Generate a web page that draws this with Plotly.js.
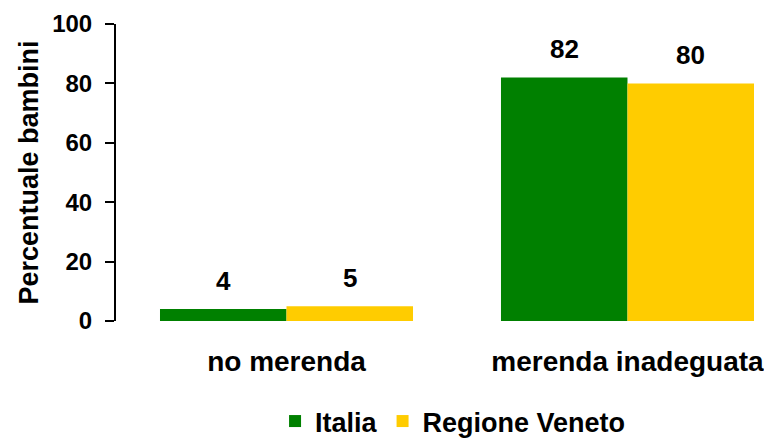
<!DOCTYPE html>
<html>
<head>
<meta charset="utf-8">
<script src="https://cdn.plot.ly/plotly-3.0.1.min.js"></script>
<style>html,body{margin:0;padding:0;background:#fff;}#chart{width:764px;height:446px;}</style>
</head>
<body>
<div id="chart"></div>
<script>
const categories = ["no merenda", "merenda inadeguata"];
const italia = [4, 82];
const veneto = [5, 80];
const seriesNames = ["Italia", "Regione Veneto"];
const yTicks = [0, 20, 40, 60, 80, 100];

const FONT = "Liberation Sans, Arial, sans-serif";
const bargap = 0.258;
const barW = (1 - bargap) / 2;
const b = s => "<b>" + s + "</b>";

const traces = [
  {type: "bar", name: b(seriesNames[0]), x: categories, y: italia, marker: {color: "#008000"}},
  {type: "bar", name: b(seriesNames[1]), x: categories, y: veneto, marker: {color: "#FFCC00"}}
];

const annotations = [];
[italia, veneto].forEach(function (vals, s) {
  vals.forEach(function (v, i) {
    annotations.push({
      xref: "x", yref: "y",
      x: i + (s === 0 ? -barW / 2 : barW / 2),
      y: v, text: b(String(v)), showarrow: false,
      yanchor: "bottom", yshift: 11,
      font: {family: FONT, size: 26, color: "#000"}
    });
  });
});

const layout = {
  width: 764, height: 446,
  margin: {l: 116, r: 10, t: 24, b: 125},
  paper_bgcolor: "#fff", plot_bgcolor: "#fff",
  barmode: "group", bargap: bargap, bargroupgap: 0,
  font: {family: FONT, color: "#000"},
  xaxis: {
    type: "category", range: [-0.5, 1.371], automargin: false,
    tickvals: categories, ticktext: categories.map(b),
    showline: false, ticks: "", showgrid: false, zeroline: false,
    tickfont: {family: FONT, size: 28, color: "#000"},
    ticklabelstandoff: 21
  },
  yaxis: {
    range: [0, 100], automargin: false,
    tickvals: yTicks, ticktext: yTicks.map(v => b(String(v))),
    showline: true, linecolor: "#000", linewidth: 2,
    ticks: "outside", ticklen: 9, tickwidth: 2, tickcolor: "#000",
    showgrid: false, zeroline: false,
    tickfont: {family: FONT, size: 24, color: "#000"},
    ticklabelstandoff: 8,
    title: {text: b("Percentuale bambini"), standoff: 6,
            font: {family: FONT, size: 27, color: "#000"}}
  },
  showlegend: true,
  legend: {
    orientation: "h", xref: "container", yref: "container",
    x: 0.593, xanchor: "center", y: 0.0, yanchor: "bottom",
    font: {family: FONT, size: 27, color: "#000"},
    itemclick: false
  },
  annotations: annotations
};

Plotly.newPlot("chart", traces, layout, {staticPlot: true});
</script>
</body>
</html>
